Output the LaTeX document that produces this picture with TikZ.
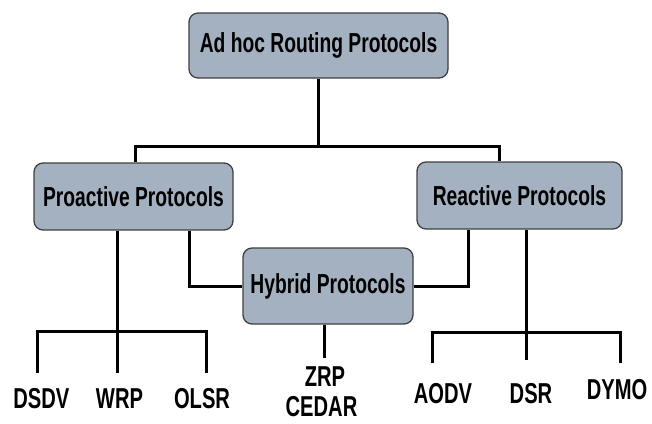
\documentclass[tikz,border=0pt]{standalone}
\usepackage{fontspec}
\setmainfont{Liberation Sans}[FakeStretch=0.70]
\begin{document}
\begin{tikzpicture}[x=1pt,y=-1pt,
  box/.style={draw=black!75,line width=1.3pt,fill=boxfill,rounded corners=9pt,
    inner sep=0pt,font=\fontsize{27.5}{30}\selectfont\bfseries},
  leaf/.style={inner sep=0pt,anchor=base,font=\fontsize{28.8}{32}\selectfont\bfseries},
  conn/.style={line width=3pt,line cap=butt}]
\definecolor{boxfill}{HTML}{A3B1C1}
\useasboundingbox (0,0) rectangle (652,423);
% boxes
\node[box,minimum width=259pt,minimum height=65pt] (top) at (318.5,45.5) {Ad hoc Routing Protocols};
\node[box,minimum width=199pt,minimum height=67pt] (pro) at (133.5,196.5) {Proactive Protocols};
\node[box,minimum width=205pt,minimum height=67pt] (rea) at (519.5,195.5) {Reactive Protocols};
\node[box,minimum width=170pt,minimum height=76pt] (hyb) at (328,286) {Hybrid Protocols};
% leaves
\node[leaf] (dsdv) at (41.3,408) {DSDV};
\node[leaf] (wrp) at (119.5,408) {WRP};
\node[leaf] (olsr) at (202,408) {OLSR};
\node[leaf] (zrp) at (325,386) {ZRP};
\node[leaf] (cedar) at (321.5,416) {CEDAR};
\node[leaf] (aodv) at (443,403) {AODV};
\node[leaf] (dsr) at (531,403) {DSR};
\node[leaf] (dymo) at (617,399) {DYMO};
% junction coordinates
\coordinate (j1) at (318.5,146);
\coordinate (l1) at (37,373);
\coordinate (l2) at (117,373);
\coordinate (l3) at (206,373);
\coordinate (lb) at (117,331);
\coordinate (h1) at (324,358);
\coordinate (r1) at (432,363);
\coordinate (r2) at (526,360);
\coordinate (r3) at (620,363);
\coordinate (rb) at (526,332);
% connectors
\draw[conn] (top.south) -- (j1);
\draw[conn] ([xshift=1.5pt]pro.north) |- (j1) -| ([xshift=-20.5pt]rea.north);
\draw[conn] ([xshift=-16.5pt]pro.south) -- (l2);
\draw[conn] (l1) |- (lb) -| (l3);
\draw[conn] (hyb.west) -| ([xshift=55.5pt]pro.south);
\draw[conn] (hyb.east) -| ([xshift=-51.5pt]rea.south);
\draw[conn] ([xshift=-4pt]hyb.south) -- (h1);
\draw[conn] ([xshift=6.5pt]rea.south) -- (r2);
\draw[conn] (r1) |- (rb) -| (r3);
\end{tikzpicture}
\end{document}
